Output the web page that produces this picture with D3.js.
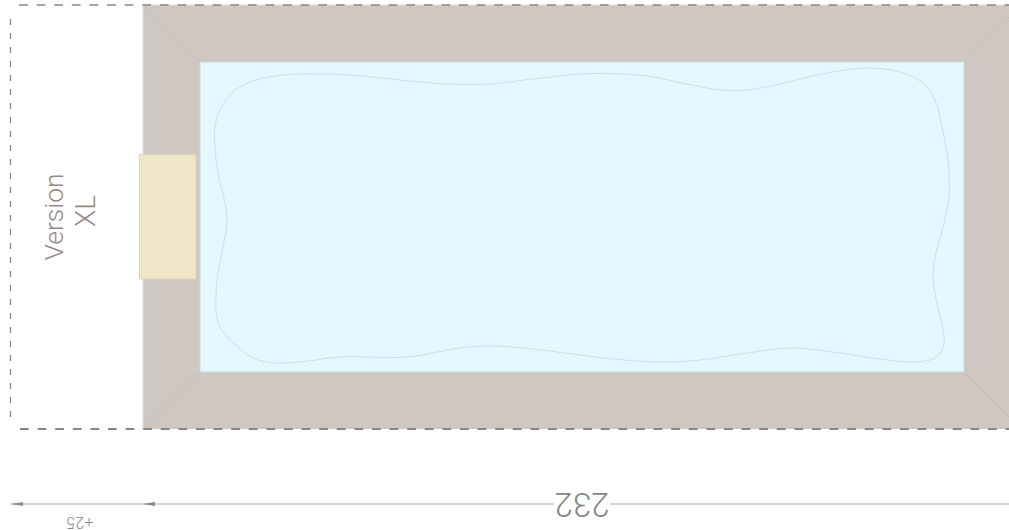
<!DOCTYPE html>
<html>
<head>
<meta charset="utf-8">
<script src="https://cdn.jsdelivr.net/npm/d3@7/dist/d3.min.js"></script>
<style>
html,body{margin:0;padding:0;background:#fff;overflow:hidden}
text{font-family:Roboto,"Liberation Sans",Arial,sans-serif;font-weight:300}
</style>
</head>
<body>
<svg id="chart" width="1009" height="530"></svg>
<script>
// Plan extents, in plan units measured from the deck's top-left corner
const deckRect = [0, 0, 866, 424];
const waterRect = [57, 57, 821, 367];
const stepRect = [-3.5, 149.5, 53, 274];
const mitreLines = [
  [[0, 0], [57, 57]],
  [[866, 12], [821, 57]],
  [[0, 424], [57, 367]],
  [[866, 412], [821, 367]]
];
const dashTop = [[-124, 0], [866, 0]];
const dashBottom = [[-123, 424], [866, 424]];
const dashLeft = [[-132.5, 14], [-132.5, 413]];
const dimensionLine = [[-132, 499], [866, 499]];
const arrowTips = [-133, -1];
const labels232 = "232";
const labels25 = "+25";
const versionLabels = ["Version", "XL"];
const versionSizes = [26.5, 28];
const liner = [
  [72,122],[77,105],[90,87],[110,76],[140,70],[175,69],[207,70],[257,75],[304,79],[347,79],
  [390,74],[447,68.5],[504,71],[544,79],[577,85],[604,85],[637,79],[684,68],[724,63],
  [757,67],[780,78],[792,95],[799,122],[805,154],[806,168],[806,192],[800,222],[793,248],[790,268],
  [793,294],[800,325],[801,338],[794,352],[770,357],[737,354],[690,347],[650,343],[604,348],[557,355],
  [517,357],[470,354],[437,350],[390,344],[350,341],[317,343],[264,352],[197,352],[157,357],[130,358],
  [110,353],[90,338],[77,322],[73,305],[73,294],[74,275],[80,242],[84,218],[82,198],[75,168],[72,142]
];

const W = 1009, H = 530;
const x = d3.scaleLinear().domain([0, 866]).range([143, 1009]);
const y = d3.scaleLinear().domain([0, 424]).range([5, 429]);
const svg = d3.select("#chart");
const seg = d3.line().x(d => x(d[0])).y(d => y(d[1]));

const rect = (r, fill, stroke, sw) => svg.append("rect")
  .attr("x", x(r[0])).attr("y", y(r[1]))
  .attr("width", x(r[2]) - x(r[0])).attr("height", y(r[3]) - y(r[1]))
  .attr("fill", fill).attr("stroke", stroke).attr("stroke-width", sw);

rect(deckRect, "#cfc8c2", "none", 0);
svg.append("path").attr("d", seg([[0, 424], [0, 0], [866, 0]]))
  .attr("fill", "none").attr("stroke", "#e2dfdc").attr("stroke-width", 1);

svg.selectAll("path.mitre").data(mitreLines).join("path").attr("class", "mitre")
  .attr("d", seg).attr("fill", "none").attr("stroke", "#c0bab3").attr("stroke-width", 0.8);

rect(waterRect, "#e4f8ff", "#c9d9da", 1);

svg.append("path")
  .attr("d", d3.line().x(d => x(d[0])).y(d => y(d[1])).curve(d3.curveCatmullRomClosed.alpha(0.5))(liner))
  .attr("fill", "none").attr("stroke", "#cddfe6").attr("stroke-width", 1);

rect(stepRect, "#efe6c8", "#dbd3bd", 1);

const dash = (pts, pattern, w) => svg.append("path").attr("d", seg(pts))
  .attr("fill", "none").attr("stroke", "#8f8480").attr("stroke-width", w)
  .attr("stroke-dasharray", pattern);
dash(dashTop, "8.8 8.8", 1.7);
dash(dashBottom, "8.8 8.8", 2);
dash(dashLeft, "6 8", 1.3);

svg.append("path").attr("d", seg(dimensionLine))
  .attr("fill", "none").attr("stroke", "#aaaaaa").attr("stroke-width", 1);

svg.selectAll("path.arrow").data(arrowTips).join("path").attr("class", "arrow")
  .attr("d", d => {
    const px = x(d), py = y(dimensionLine[0][1]);
    return `M${px},${py}L${px + 13},${py - 2}L${px + 13},${py + 2}Z`;
  })
  .attr("fill", "#8c8c8c");

// 232 sits on a white gap in the dimension line
svg.append("rect").attr("x", 554).attr("y", 490).attr("width", 56).attr("height", 28).attr("fill", "#fff");
svg.append("text").text(labels232)
  .attr("transform", "translate(582,504) rotate(180)")
  .attr("text-anchor", "middle").attr("dominant-baseline", "central")
  .attr("font-size", 33).attr("fill", "#858585");
svg.append("text").text(labels25)
  .attr("transform", "translate(80,522) rotate(180)")
  .attr("text-anchor", "middle").attr("dominant-baseline", "central")
  .attr("font-size", 16).attr("fill", "#8a8a8a");

svg.selectAll("text.version").data(versionLabels).join("text").attr("class", "version")
  .text(d => d)
  .attr("transform", (d, i) => `translate(${i ? 85 : 53},${i ? 211 : 217}) rotate(-90)`)
  .attr("text-anchor", "middle").attr("dominant-baseline", "central")
  .attr("font-size", (d, i) => versionSizes[i]).attr("fill", "#958a85");
</script>
</body>
</html>
